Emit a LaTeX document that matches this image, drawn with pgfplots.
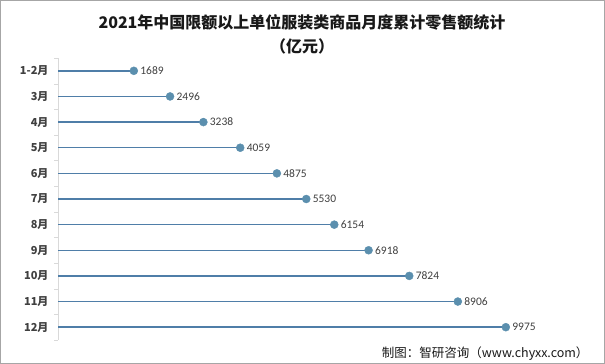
\documentclass[border=0pt]{standalone}
\usepackage{fontspec}
\setmainfont{Noto Sans CJK SC}
\newfontfamily\numfont{Carlito}
\usepackage{pgfplots}
\pgfplotsset{compat=1.18}
\definecolor{stem}{HTML}{4F7EA8}
\definecolor{dot}{HTML}{5B8FAE}
\definecolor{txt}{HTML}{404040}
\begin{document}
\begin{tikzpicture}
\useasboundingbox (0pt,0pt) rectangle (605pt,364pt);
\fill[white] (0pt,0pt) rectangle (605pt,364pt);
\draw[black!35, line width=1pt] (0.5pt,0.5pt) rectangle (604.5pt,363.5pt);
\node[font=\bfseries\fontsize{16}{18}\selectfont, text=black!90] at (302pt,342pt) {2021年中国限额以上单位服装类商品月度累计零售额统计};
\node[font=\bfseries\fontsize{16}{18}\selectfont, text=black!90] at (302pt,318pt) {（亿元）};
\node[anchor=east, font=\fontsize{12.5}{14}\selectfont, text=black!90] at (592pt,10pt) {制图：智研咨询（www.chyxx.com）};
\begin{axis}[at={(58pt,24pt)}, anchor=south west, scale only axis,
  width=532pt, height=282pt,
  xmin=0, xmax=11850, ymin=-0.5, ymax=10.5, y dir=reverse,
  axis x line=none, axis y line=left,
  y axis line style={-, draw=black!15},
  ytick={0,...,10},
  yticklabels={1-2月,3月,4月,5月,6月,7月,8月,9月,10月,11月,12月},
  major tick length=0pt,
  minor ytick={-0.5,0.5,...,10.5}, minor tick length=4pt, tick align=outside,
  minor tick style={black!15},
  yticklabel style={font=\bfseries\fontsize{11}{12}\selectfont, text=txt, xshift=-6pt},
  /pgf/number format/assume math mode=true,
  clip=false]
\addplot[xcomb, color=stem, line width=1.5pt, mark=*,
  mark options={fill=dot, draw=dot, line width=0.4pt}, mark size=4pt,
  point meta=x,
  nodes near coords={\numfont\pgfmathprintnumber[fixed,precision=0,1000 sep={},assume math mode=true]{\pgfplotspointmeta}},
  nodes near coords style={anchor=west, font=\fontsize{11.5}{12}\selectfont, text=txt, xshift=3pt}]
coordinates {(1689,0) (2496,1) (3238,2) (4059,3) (4875,4) (5530,5) (6154,6) (6918,7) (7824,8) (8906,9) (9975,10)};
\end{axis}
\end{tikzpicture}
\end{document}
